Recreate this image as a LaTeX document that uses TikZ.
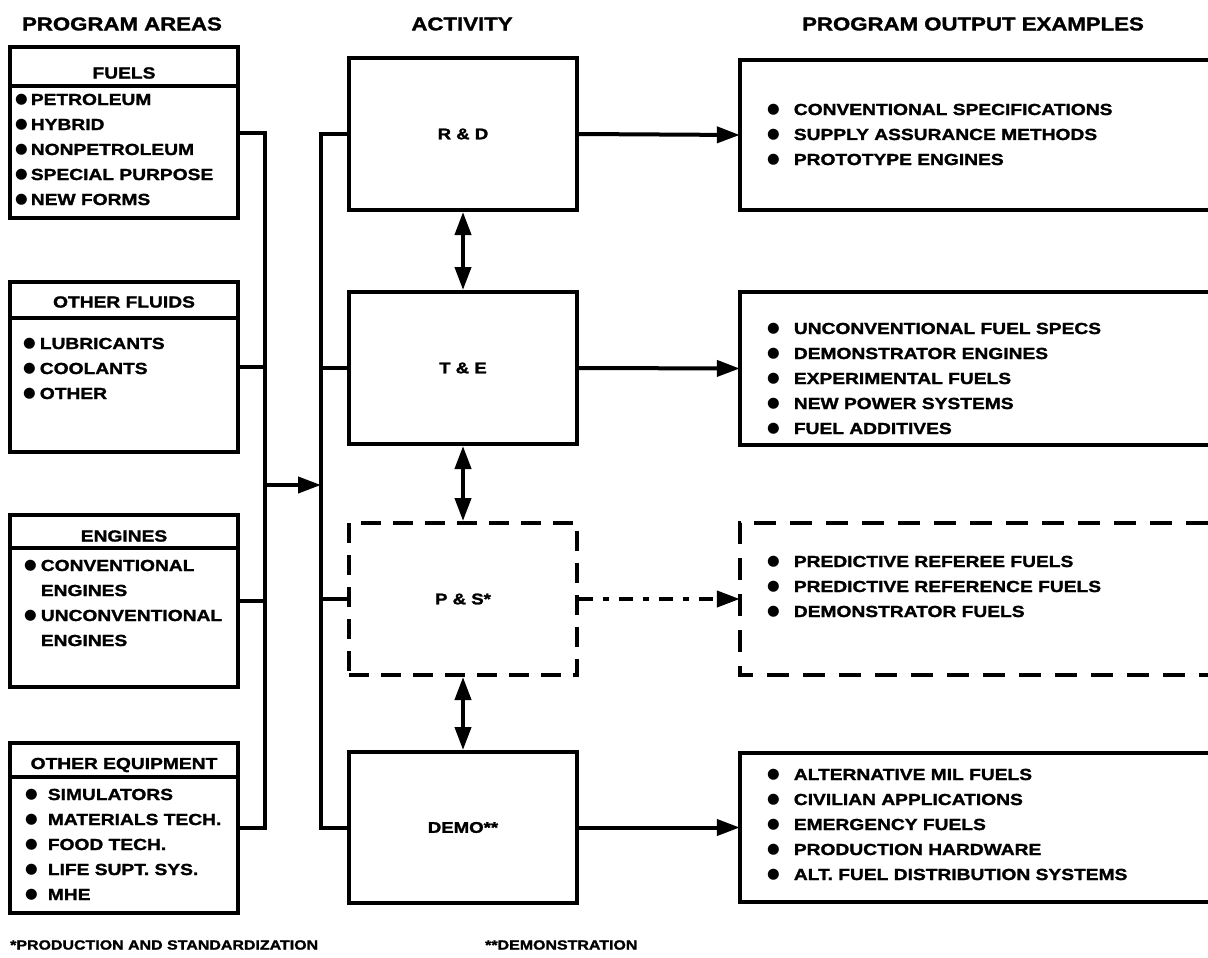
\documentclass[tikz,border=0pt]{standalone}
\usepackage{fontspec}
\usetikzlibrary{arrows.meta,calc}
\setmainfont{Liberation Sans}[FakeStretch=1.2, BoldFeatures={FakeBold=1.6}]
\newfontfamily\dvsans{DejaVu Sans}
\newcommand\bul{\raisebox{1.2pt}{\dvsans\fontsize{14.5}{14.5}\selectfont ●}}
\newcommand\hv{\bfseries}

\tikzset{
  box/.style={draw, line width=4pt, rectangle, inner sep=0pt, minimum width=228pt,
              font=\hv\fontsize{15.5}{15.5}\selectfont},
  dbox/.style={box, dash pattern=on 20pt off 12pt},
  obox/.style={rectangle, inner sep=0pt, minimum width=468pt},
  wire/.style={line width=4pt},
  dwire/.style={wire, dash pattern=on 22pt off 14pt},
  arr/.style={wire, -{Triangle[length=23pt,width=16pt]}},
  darr/.style={wire, {Triangle[length=23pt,width=16pt]}-{Triangle[length=23pt,width=16pt]}},
  coltitle/.style={font=\hv\fontsize{18.5}{20}\selectfont, inner sep=0pt},
  boxtitle/.style={font=\hv\fontsize{16}{18}\selectfont, inner sep=0pt},
  items/.style={font=\hv\fontsize{16}{25}\selectfont, align=left, inner sep=0pt, anchor=west},
  note/.style={font=\hv\fontsize{13.3}{15}\selectfont, inner sep=0pt, anchor=west}
}

\begin{document}
\begin{tikzpicture}[x=1pt, y=-1pt, line join=miter]
\useasboundingbox (0,0) rectangle (1208,958);

% column headings
\node[coltitle] (hAreas) at (122,24) {PROGRAM AREAS};
\node[coltitle] (hAct) at (462,24) {ACTIVITY};
\node[coltitle] (hOut) at (973,24) {PROGRAM OUTPUT EXAMPLES};

% program area boxes
\node[box, minimum height=171pt] (fuels) at (124,132.5) {};
\node[box, minimum height=170pt] (fluids) at (124,367) {};
\node[box, minimum height=172pt] (engines) at (124,601) {};
\node[box, minimum height=170pt] (equip) at (124,828) {};

\draw[wire] ($(fuels.north west)+(0,41)$) -- ($(fuels.north east)+(0,41)$);
\draw[wire] ($(fluids.north west)+(0,38)$) -- ($(fluids.north east)+(0,38)$);
\draw[wire] ($(engines.north west)+(0,35)$) -- ($(engines.north east)+(0,35)$);
\draw[wire] ($(equip.north west)+(0,36)$) -- ($(equip.north east)+(0,36)$);

\node[boxtitle] (tFuels) at (124,73) {FUELS};
\node[boxtitle] (tFluids) at (124,302) {OTHER FLUIDS};
\node[boxtitle] (tEngines) at (124,536) {ENGINES};
\node[boxtitle] (tEquip) at (124,765) {OTHER EQUIPMENT};

\node[items] (lFuels) at (15,150) {\begin{tabular}{@{}l@{\hspace{3pt}}l@{}}
\bul & PETROLEUM\\ \bul & HYBRID\\ \bul & NONPETROLEUM\\ \bul & SPECIAL PURPOSE\\ \bul & NEW FORMS
\end{tabular}};
\node[items] (lFluids) at (23,369) {\begin{tabular}{@{}l@{\hspace{4pt}}l@{}}
\bul & LUBRICANTS\\ \bul & COOLANTS\\ \bul & OTHER
\end{tabular}};
\node[items] (lEngines) at (24,603.5) {\begin{tabular}{@{}l@{\hspace{4pt}}l@{}}
\bul & CONVENTIONAL\\ & ENGINES\\ \bul & UNCONVENTIONAL\\ & ENGINES
\end{tabular}};
\node[items] (lEquip) at (25,845) {\begin{tabular}{@{}l@{\hspace{10pt}}l@{}}
\bul & SIMULATORS\\ \bul & MATERIALS TECH.\\ \bul & FOOD TECH.\\ \bul & LIFE SUPT. SYS.\\ \bul & MHE
\end{tabular}};

% activity boxes
\node[box, minimum height=152pt] (rd) at (463,134) {R \& D};
\node[box, minimum height=152pt] (te) at (463,368) {T \& E};
\node[dbox, minimum height=152pt] (ps) at (463,599) {P \& S*};
\node[box, minimum height=151pt] (demo) at (463,827.5) {DEMO**};

% output boxes (open on the right)
\node[obox, minimum height=150pt] (o1) at (974,135) {};
\node[obox, minimum height=153pt] (o2) at (974,368.5) {};
\node[obox, minimum height=152pt] (o3) at (974,599) {};
\node[obox, minimum height=149pt] (o4) at (974,827.5) {};
\draw[wire] (o1.north east) -- (o1.north west) -- (o1.south west) -- (o1.south east);
\draw[wire] (o2.north east) -- (o2.north west) -- (o2.south west) -- (o2.south east);
\draw[dwire] (o3.north east) -- (o3.north west) -- (o3.south west) -- (o3.south east);
\draw[wire] (o4.north east) -- (o4.north west) -- (o4.south west) -- (o4.south east);

\node[items] (l1) at (767,135) {\begin{tabular}{@{}l@{\hspace{14pt}}l@{}}
\bul & CONVENTIONAL SPECIFICATIONS\\ \bul & SUPPLY ASSURANCE METHODS\\ \bul & PROTOTYPE ENGINES
\end{tabular}};
\node[items] (l2) at (767,379) {\begin{tabular}{@{}l@{\hspace{14pt}}l@{}}
\bul & UNCONVENTIONAL FUEL SPECS\\ \bul & DEMONSTRATOR ENGINES\\ \bul & EXPERIMENTAL FUELS\\ \bul & NEW POWER SYSTEMS\\ \bul & FUEL ADDITIVES
\end{tabular}};
\node[items] (l3) at (767,587) {\begin{tabular}{@{}l@{\hspace{14pt}}l@{}}
\bul & PREDICTIVE REFEREE FUELS\\ \bul & PREDICTIVE REFERENCE FUELS\\ \bul & DEMONSTRATOR FUELS
\end{tabular}};
\node[items] (l4) at (767,825) {\begin{tabular}{@{}l@{\hspace{14pt}}l@{}}
\bul & ALTERNATIVE MIL FUELS\\ \bul & CIVILIAN APPLICATIONS\\ \bul & EMERGENCY FUELS\\ \bul & PRODUCTION HARDWARE\\ \bul & ALT. FUEL DISTRIBUTION SYSTEMS
\end{tabular}};

% collecting bus on the left
\coordinate (lbus) at (265,0);
\coordinate (abus) at (321,0);
\coordinate (join) at (265,485);
\draw[wire] (fuels.east) -- (fuels.east -| lbus) -- (equip.east -| lbus) -- (equip.east);
\draw[wire] (fluids.east) -- (fluids.east -| lbus);
\draw[wire] (engines.east) -- (engines.east -| lbus);
\draw[arr] (join) -- (join -| abus);

% distribution bus to the activities
\draw[wire] (rd.west) -- (rd.west -| abus) -- (demo.west -| abus) -- (demo.west);
\draw[wire] (te.west) -- (te.west -| abus);
\draw[wire] (ps.west) -- (ps.west -| abus);

% links between activities
\draw[darr] (rd.south) -- (te.north);
\draw[darr] (te.south) -- (ps.north);
\draw[darr] (ps.south) -- (demo.north);

% activity outputs
\draw[arr] (rd.east) -- (o1.west);
\draw[arr] (te.east) -- (o2.west);
\draw[arr, dash pattern=on 14pt off 10pt on 6pt off 10pt] (ps.east) -- (o3.west);
\draw[arr] (demo.east) -- (o4.west);

% footnotes
\node[note] (n1) at (10,945) {*PRODUCTION AND STANDARDIZATION};
\node[note] (n2) at (485,945) {**DEMONSTRATION};
\end{tikzpicture}
\end{document}
